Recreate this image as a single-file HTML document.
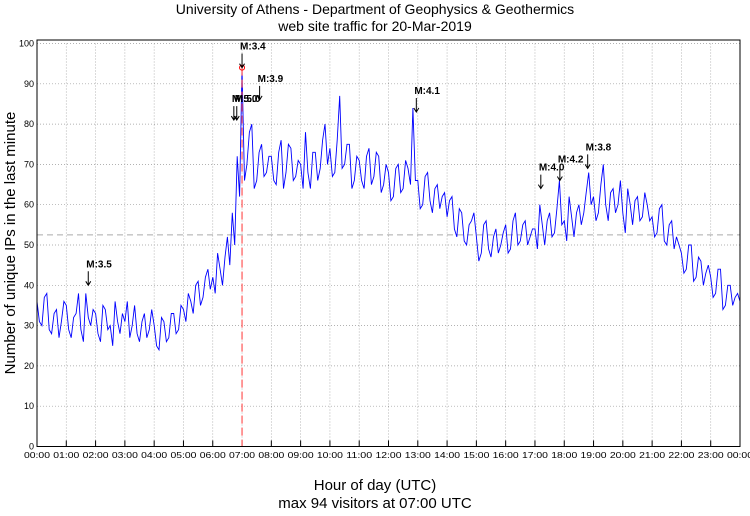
<!DOCTYPE html>
<html><head><meta charset="utf-8"><style>
body{margin:0;background:#fff;}
svg text{font-family:"Liberation Sans",sans-serif;}
</style></head><body>
<svg width="750" height="511" viewBox="0 0 750 511" xmlns="http://www.w3.org/2000/svg">
<text x="375" y="14" font-size="14" text-anchor="middle">University of Athens - Department of Geophysics &amp; Geothermics</text>
<text x="375" y="31" font-size="14" text-anchor="middle">web site traffic for 20-Mar-2019</text>
<g id="grid"></g>
<g id="series"></g>
<g id="annot"></g>
<rect x="37" y="40" width="703" height="406.5" fill="none" stroke="#000" stroke-width="1"/>
<text x="375" y="490" font-size="15" text-anchor="middle">Hour of day (UTC)</text>
<text x="375" y="508" font-size="15" text-anchor="middle">max 94 visitors at 07:00 UTC</text>
<text transform="translate(15,243) rotate(-90)" font-size="15" text-anchor="middle">Number of unique IPs in the last minute</text>
</svg>
<script>
const yTicks=[0,10,20,30,40,50,60,70,80,90,100];
const xTickLabels=["00:00","01:00","02:00","03:00","04:00","05:00","06:00","07:00","08:00","09:00","10:00","11:00","12:00","13:00","14:00","15:00","16:00","17:00","18:00","19:00","20:00","21:00","22:00","23:00","00:00"];
const visitors=[
36,31,30,37,38,29,28,33,34,27,31,36,
35,29,27,32,33,38,29,26,38,32,30,34,
33,28,26,35,34,29,30,25,36,31,28,33,
31,36,27,30,35,28,26,31,33,27,29,34,
30,25,24,32,31,26,27,33,33,28,29,35,
34,31,38,36,33,40,41,35,37,42,44,39,
42,38,48,44,40,47,52,45,58,50,72,62,
94,66,70,78,80,64,66,73,75,67,68,72,
72,66,65,73,76,64,68,75,74,66,67,71,
70,64,78,68,64,73,73,66,69,76,80,70,
74,67,68,76,87,69,70,75,75,64,66,72,
71,66,64,72,74,65,67,73,72,63,65,70,
68,61,62,69,70,63,64,71,69,65,84,66,
66,59,60,67,68,61,58,64,65,59,62,63,
57,61,62,54,52,59,58,51,50,55,56,58,
52,46,48,55,56,49,47,52,54,48,50,53,
55,48,49,56,58,50,51,55,56,50,52,54,
54,49,60,55,50,56,58,52,53,59,66,55,
56,51,62,57,52,58,60,55,58,63,68,60,
62,56,58,65,70,60,56,63,64,58,60,66,
58,53,64,60,55,61,62,56,57,63,60,56,
57,52,53,59,60,51,50,55,56,49,52,50,
48,43,44,50,50,41,42,47,46,40,43,45,
42,37,38,44,44,34,35,40,40,35,37,38,
36];
const meanLevel=52.5;
const maxHour=7, maxValue=94;
const quakeLabels=["M:3.5","M:3.4","M:3.9","M:5.0","M:5.0","M:4.1","M:4.0","M:4.2","M:3.8"];
const quakeHours=[1.75,7.0,7.6,6.72,6.82,12.95,17.2,17.85,18.8];
const quakeValues=[40,94,86,81,81,83,64,66,69];
const NS="http://www.w3.org/2000/svg";
const X0=37,X1=740,Y0=446.5,Y1=43.5;
const xs=h=>X0+(X1-X0)*h/24;
const ys=v=>Y0+(Y1-Y0)*v/100;
function mk(t,a,p){const e=document.createElementNS(NS,t);for(const k in a)e.setAttribute(k,a[k]);p.appendChild(e);return e;}
const grid=document.getElementById('grid');
yTicks.forEach(v=>{
 const l=mk('line',{x1:X0,x2:X1,y1:ys(v),y2:ys(v),stroke:'#999','stroke-width':0.7,'stroke-dasharray':'1,2'},grid);
 
 
 const t=mk('text',{x:X0-3,y:ys(v)+3,'font-size':9,'text-anchor':'end'},grid);t.textContent=v;
 
 
});
xTickLabels.forEach((s,i)=>{
 const x=xs(i);
 const l=mk('line',{x1:x,x2:x,y1:Y1,y2:Y0,stroke:'#999','stroke-width':0.7,'stroke-dasharray':'1,2'},grid);
 
 
 mk('line',{x1:x,x2:x,y1:Y0,y2:Y0-6,stroke:'#000'},grid);
 const t=mk('text',{x:x,y:458,'font-size':8.5,'text-anchor':'middle',textLength:26,lengthAdjust:'spacingAndGlyphs'},grid);t.textContent=s;
 
 
});
const ser=document.getElementById('series');
const ml=mk('line',{x1:X0,x2:X1,y1:ys(meanLevel),y2:ys(meanLevel),stroke:'#aaa','stroke-dasharray':'6,4'},ser);


const n=visitors.length-1;
const pts=visitors.map((v,i)=>xs(24*i/n).toFixed(1)+','+ys(v).toFixed(1)).join(' ');
const pl=mk('polyline',{points:pts,fill:'none',stroke:'#0000ff','stroke-width':0.9},ser);


const rl=mk('line',{x1:xs(maxHour),x2:xs(maxHour),y1:ys(maxValue),y2:Y0,stroke:'#ff5555','stroke-dasharray':'8,4','stroke-width':1.2},ser);


const c=mk('circle',{cx:xs(maxHour),cy:ys(maxValue),r:2.5,fill:'none',stroke:'red'},ser);


const an=document.getElementById('annot');
quakeLabels.forEach((s,i)=>{
 const x=xs(quakeHours[i]),y=ys(quakeValues[i]);
 const a=mk('path',{d:`M${x},${y-14}V${y} M${x-2.5},${y-4}L${x},${y}L${x+2.5},${y-4}`,stroke:'#000',fill:'none','stroke-width':1},an);
 
 
 const t=mk('text',{x:x-2,y:y-18,'font-size':10,'font-weight':'bold'},an);t.textContent=s;
 
 
});
</script>
</body></html>
